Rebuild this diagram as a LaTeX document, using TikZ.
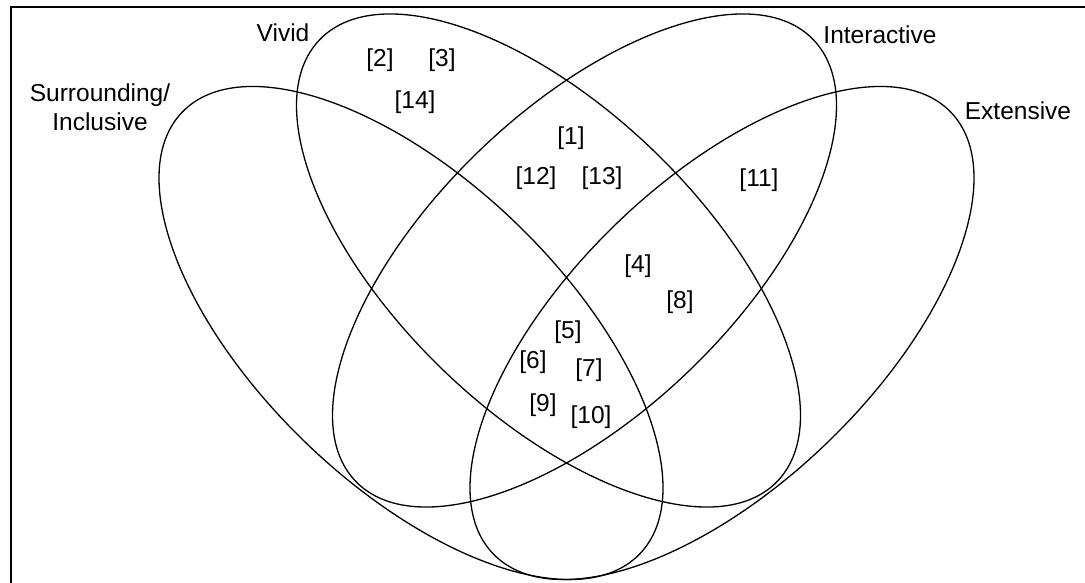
\documentclass[tikz,border=0pt]{standalone}
\usepackage{fontspec}
\setmainfont{Liberation Sans}
\usetikzlibrary{shapes.geometric}
\begin{document}
\begin{tikzpicture}[x=1pt,y=-1pt,
  venn/.style={draw=black,line width=1.3pt,ellipse,inner sep=0pt,outer sep=0pt,
    minimum width=636pt,minimum height=304pt},
  lbl/.style={inner sep=0pt,font=\fontsize{24.5}{29}\selectfont,align=center}]
\useasboundingbox (0,0) rectangle (1085,583);
\fill[white] (0,0) rectangle (1085,583);
\coordinate (fbl) at (11,583);
\coordinate (ftl) at (11,7);
\coordinate (ftr) at (1085,7);
\draw[line width=2.5pt] (fbl) -- (ftl) -- (ftr);
% ellipses
\node[venn,rotate=-44] (vivid) at (548.5,260.5) {};
\node[venn,rotate=44] (interactive) at (584.5,260.5) {};
\node[venn,rotate=-44] (surround) at (411,333) {};
\node[venn,rotate=44] (extensive) at (722,333) {};
% set labels
\node[lbl] (tv) at (283,33) {Vivid};
\node[lbl] (ts) at (100,107) {Surrounding/\\Inclusive};
\node[lbl] (ti) at (880,35) {Interactive};
\node[lbl] (te) at (1018,111) {Extensive};
% references
\node[lbl] (r2) at (380,60) {[2]};
\node[lbl] (r3) at (442,60) {[3]};
\node[lbl] (r14) at (415,102) {[14]};
\node[lbl] (r1) at (571,138) {[1]};
\node[lbl] (r12) at (536,178) {[12]};
\node[lbl] (r13) at (602,178) {[13]};
\node[lbl] (r11) at (759,180) {[11]};
\node[lbl] (r4) at (638,266) {[4]};
\node[lbl] (r8) at (680,302) {[8]};
\node[lbl] (r5) at (568,332) {[5]};
\node[lbl] (r6) at (533,362) {[6]};
\node[lbl] (r7) at (589,370) {[7]};
\node[lbl] (r9) at (543,405) {[9]};
\node[lbl] (r10) at (591,417) {[10]};
\end{tikzpicture}
\end{document}
